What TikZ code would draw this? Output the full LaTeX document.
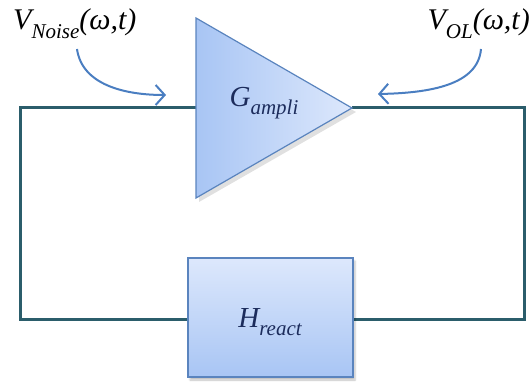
\documentclass[tikz,border=0pt]{standalone}
\usepackage{fontspec}
\setmainfont{Liberation Serif}
\usetikzlibrary{arrows.meta,shadows.blur}
\definecolor{wire}{HTML}{2B5D6B}
\definecolor{edge}{HTML}{5A84BE}
\definecolor{fillA}{HTML}{A8C5F4}
\definecolor{fillB}{HTML}{DDE8FC}
\definecolor{navy}{HTML}{1C2C5C}
\definecolor{arr}{HTML}{4A7EC1}
\newcommand{\symsub}[2]{\itshape #1\raisebox{-0.3em}{\fontsize{21}{22}\selectfont\itshape #2}}
\tikzset{
  wireline/.style={draw=wire,line width=3pt},
  bluearrow/.style={draw=arr,line width=2pt,-{Straight Barb[length=9pt,width=20pt,line width=2pt]}},
  lbl/.style={font=\fontsize{30}{32}\selectfont,inner sep=0pt},
  inlbl/.style={font=\fontsize{29}{30}\selectfont,text=navy,inner sep=0pt},
}
\begin{document}
\begin{tikzpicture}[x=1pt,y=-1pt]
\useasboundingbox (0,0) rectangle (531,385);
% coordinates
\coordinate (tl) at (196,108);
\coordinate (ttop) at (196,18);
\coordinate (tbot) at (196,198);
\coordinate (tout) at (352,108);
\coordinate (c1) at (20,108);
\coordinate (c2) at (20,320);
\coordinate (c3) at (524,320);
\coordinate (c4) at (524,108);
% wires
\draw[wireline] (tl) -- (c1) -- (c2) -- (188,320);
\draw[wireline] (353,320) -- (c3) -- (c4) -- (tout);
% triangle
\fill[black,opacity=0.12] (199,22) -- (356,112) -- (199,202) -- cycle;
\shade[left color=fillA,right color=fillB] (ttop) -- (tout) -- (tbot) -- cycle;
\draw[edge,line width=1.2pt,line join=miter] (ttop) -- (tout) -- (tbot) -- cycle;
\node[inlbl] (g) at (264,103) {\symsub{G}{ampli}};
% box
\node[draw=edge,line width=1.2pt,top color=fillB,bottom color=fillA,
      minimum width=165pt,minimum height=119pt,inner sep=0pt,
      blur shadow={shadow xshift=2pt,shadow yshift=-3pt,shadow blur steps=4,shadow opacity=25}]
      (h) at (270.5,317.5) {};
\node[inlbl] (hl) at (270,322) {\symsub{H}{react}};
% labels
\node[lbl,anchor=west] (vn) at (13,24) {\symsub{V}{Noise}(\itshape ω,t)};
\node[lbl,anchor=east] (vo) at (530,24) {\symsub{V}{OL}(\itshape ω,t)};
% arrows
\coordinate (an) at (166,95);
\coordinate (ao) at (378,94);
\draw[bluearrow] (77,49) .. controls (82,85) and (125,95) .. (an);
\draw[bluearrow] (481,49) .. controls (478,85) and (430,93) .. (ao);
\end{tikzpicture}
\end{document}
